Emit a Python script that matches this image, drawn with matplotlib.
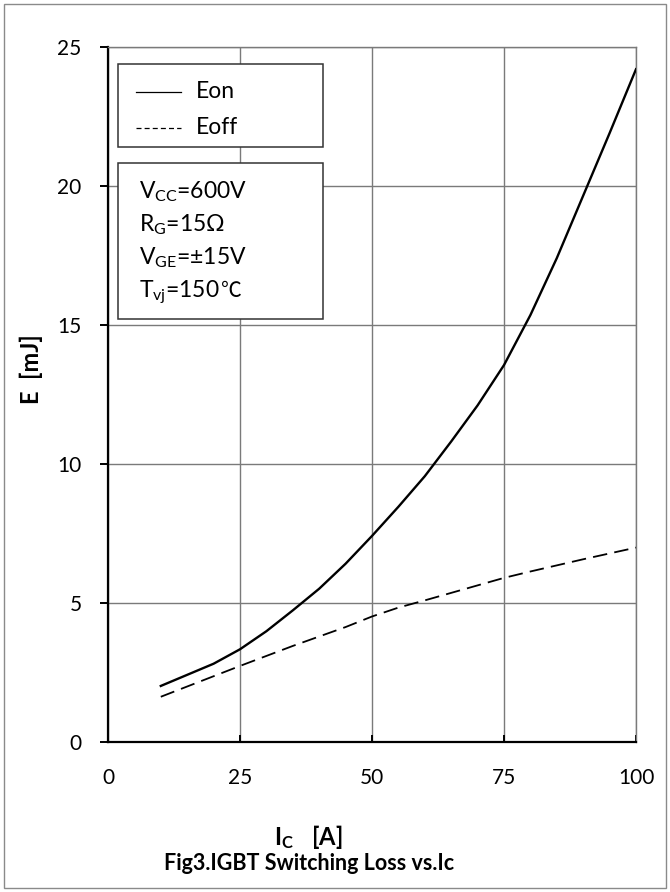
import matplotlib
matplotlib.use("Agg")
import matplotlib.pyplot as plt
from matplotlib.patches import Rectangle
from matplotlib.lines import Line2D

plt.rcParams['font.family'] = ['Lato', 'Noto Sans CJK SC', 'DejaVu Sans']
plt.rcParams['mathtext.fontset'] = 'custom'
plt.rcParams['mathtext.rm'] = 'Lato'
plt.rcParams['mathtext.it'] = 'Lato:italic'
plt.rcParams['mathtext.bf'] = 'Lato:bold'

# values
ic = [10, 15, 20, 25, 30, 35, 40, 45, 50, 55, 60, 65, 70, 75, 80, 85, 90, 95, 100]
e_on = [2.00, 2.40, 2.80, 3.32, 3.97, 4.72, 5.50, 6.40, 7.40, 8.45, 9.55, 10.80,
        12.10, 13.55, 15.35, 17.40, 19.65, 21.90, 24.20]
e_off = [1.61, 1.98, 2.35, 2.72, 3.08, 3.44, 3.78, 4.12, 4.50, 4.82, 5.08, 5.35,
         5.62, 5.89, 6.12, 6.34, 6.56, 6.77, 6.98]

x_ticks = [0, 25, 50, 75, 100]
y_ticks = [0, 5, 10, 15, 20, 25]
conditions = [r'V$_{\mathrm{CC}}$=600V', r'R$_{\mathrm{G}}$=15Ω',
              r'V$_{\mathrm{GE}}$=±15V', r'T$_{\mathrm{vj}}$=150']
degree_sign = '℃'

W, H = 670, 892
fig = plt.figure(figsize=(W / 100, H / 100), dpi=100)


def fx(px):
    return px / W


def fy(py):
    return 1 - py / H


ax = fig.add_axes([fx(108), fy(741.5), fx(636) - fx(108), fy(47) - fy(741.5)])

ax.plot(ic, e_on, color='black', lw=1.7, zorder=3)
ax.plot(ic, e_off, color='black', lw=1.3, dashes=(8, 4), zorder=3)

ax.set_xlim(0, 100)
ax.set_ylim(0, 25)
ax.set_xticks(x_ticks)
ax.set_yticks(y_ticks)
ax.grid(True, color='#7a7a7a', lw=1.0)
ax.set_axisbelow(True)

for s in ['top', 'right']:
    ax.spines[s].set_color('#7a7a7a')
    ax.spines[s].set_linewidth(1.0)
for s in ['left', 'bottom']:
    ax.spines[s].set_color('black')
    ax.spines[s].set_linewidth(1.6)

ax.tick_params(axis='y', direction='out', length=6, width=1.4, pad=13, labelsize=15)
ax.tick_params(axis='x', direction='in', length=5, width=1.4, pad=19, labelsize=15)

# axis titles and caption
fig.text(fx(31), fy(369), 'E  [mJ]', rotation=90, ha='center', va='center',
         fontsize=17, fontweight='bold')
fig.text(fx(308), fy(837), r'$\mathbf{I_{C}\ \ \ [A]}$', ha='center', va='center',
         fontsize=17)
fig.text(fx(309), fy(863), 'Fig3.IGBT Switching Loss vs.Ic', ha='center', va='center',
         fontsize=15.5, fontweight='bold')

# legend box
fig.patches.append(Rectangle((fx(118), fy(147)), fx(323) - fx(118), fy(64) - fy(147),
                             transform=fig.transFigure, facecolor='white',
                             edgecolor='#333333', lw=1.1, zorder=5))
fig.lines.append(Line2D([fx(136), fx(181)], [fy(92), fy(92)], transform=fig.transFigure,
                        color='black', lw=0.9, zorder=6))
fig.lines.append(Line2D([fx(136), fx(181)], [fy(128), fy(128)], transform=fig.transFigure,
                        color='black', lw=0.9, dashes=(4, 2.5), zorder=6))
fig.text(fx(196), fy(92), 'Eon', ha='left', va='center', fontsize=16.5, zorder=7)
fig.text(fx(196), fy(128), 'Eoff', ha='left', va='center', fontsize=16.5, zorder=7)

# test conditions box
fig.patches.append(Rectangle((fx(118), fy(319)), fx(323) - fx(118), fy(163) - fy(319),
                             transform=fig.transFigure, facecolor='white',
                             edgecolor='#333333', lw=1.1, zorder=5))
cond_texts = []
for i, txt in enumerate(conditions):
    t = fig.text(fx(139), fy(198 + i * 33), txt, ha='left', va='baseline',
                 fontsize=16.5, zorder=7)
    cond_texts.append(t)

# the celsius sign is missing from the math font, so put it after the last line
fig.canvas.draw()
bb = cond_texts[-1].get_window_extent()
fig.text(fx(bb.x1 + 1), fy(198 + 3 * 33), degree_sign, ha='left', va='baseline',
         fontsize=15, family=['Noto Sans CJK SC', 'DejaVu Sans'], zorder=7)

# outer frame
fig.patches.append(Rectangle((fx(4), fy(888)), fx(666) - fx(4), fy(4) - fy(888),
                             transform=fig.transFigure, fill=False,
                             edgecolor='#8a8a8a', lw=1.0, zorder=0))

fig.savefig('out.png', dpi=100)
